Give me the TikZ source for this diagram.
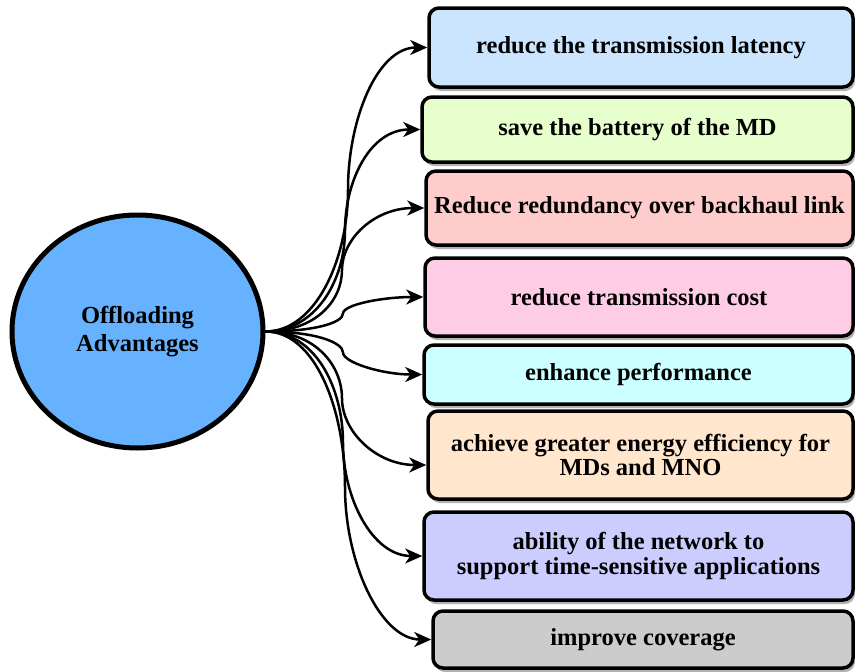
\documentclass[tikz,border=0pt]{standalone}
\usepackage{fontspec}
\setmainfont{Liberation Serif}
\usetikzlibrary{shadows,arrows.meta,shapes.geometric}
\definecolor{circ}{HTML}{66B2FF}
\definecolor{cA}{HTML}{CCE5FF}
\definecolor{cB}{HTML}{E6FFCC}
\definecolor{cC}{HTML}{FFCCCC}
\definecolor{cD}{HTML}{FFCCE6}
\definecolor{cE}{HTML}{CCFFFF}
\definecolor{cF}{HTML}{FFE6CC}
\definecolor{cG}{HTML}{CCCCFF}
\definecolor{cH}{HTML}{CCCCCC}
\begin{document}
\begin{tikzpicture}[x=1pt,y=-1pt,
  box/.style={draw=black, line width=3.5pt, rounded corners=10pt, align=center,
    font=\fontsize{24.5}{25}\selectfont\bfseries, inner sep=0pt,
    drop shadow={shadow xshift=2pt,shadow yshift=-4pt,fill=black!30,opacity=1}},
  arr/.style={line width=2.5pt, -{Stealth[length=17pt,width=15pt,inset=5pt]}},
]
\useasboundingbox (0,0) rectangle (855,672);

\node[ellipse, draw=black, line width=5pt, fill=circ, minimum width=251pt, minimum height=233pt,
  inner sep=0pt, align=center, font=\fontsize{24.5}{28}\selectfont\bfseries] (c) at (137.5,331.5) {Offloading\\Advantages};

\node[box, fill=cA, minimum width=424pt, minimum height=79pt] (b1) at (641,47.5) {reduce the transmission latency};
\node[box, fill=cB, minimum width=431pt, minimum height=65pt] (b2) at (637.5,129.5) {save the battery of the MD};
\node[box, fill=cC, minimum width=427pt, minimum height=74pt] (b3) at (639.5,208) {Reduce redundancy over backhaul link};
\node[box, fill=cD, minimum width=428pt, minimum height=78pt] (b4) at (639,297) {reduce transmission cost};
\node[box, fill=cE, minimum width=429pt, minimum height=59pt] (b5) at (638.5,374.5) {enhance performance};
\node[box, fill=cF, minimum width=425pt, minimum height=88pt, font=\fontsize{24.5}{20}\selectfont\bfseries] (b6) at (640.5,455) {achieve greater energy efficiency for\\MDs and MNO};
\node[box, fill=cG, minimum width=429pt, minimum height=88pt] (b7) at (638.5,556) {ability of the network to\\support time-sensitive applications};
\node[box, fill=cH, minimum width=420pt, minimum height=57pt] (b8) at (643,639.5) {improve coverage};

\coordinate (m1) at (348,189.5);
\coordinate (m2) at (345,230.5);
\coordinate (m3) at (342,270);
\coordinate (m4) at (343,313.5);
\coordinate (m5) at (343,352.5);
\coordinate (m6) at (342,398.5);
\coordinate (m7) at (343,443);
\coordinate (m8) at (345,487);
\coordinate (t6) at ([yshift=-10pt]b6.west);

\draw[arr] (c.east) .. controls +(50,0) and +(0,70) .. (m1) .. controls +(0,-70) and +(-50,0) .. (b1.west);
\draw[arr] (c.east) .. controls +(50,0) and +(0,50) .. (m2) .. controls +(0,-50) and +(-50,0) .. (b2.west);
\draw[arr] (c.east) .. controls +(50,0) and +(0,31) .. (m3) .. controls +(0,-31) and +(-50,0) .. (b3.west);
\draw[arr] (c.east) .. controls +(50,0) and +(0,9) .. (m4) .. controls +(0,-9) and +(-40,0) .. (b4.west);
\draw[arr] (c.east) .. controls +(50,0) and +(0,-10) .. (m5) .. controls +(0,10) and +(-40,0) .. (b5.west);
\draw[arr] (c.east) .. controls +(50,0) and +(0,-33) .. (m6) .. controls +(0,33) and +(-50,0) .. (t6);
\draw[arr] (c.east) .. controls +(50,0) and +(0,-55) .. (m7) .. controls +(0,55) and +(-50,0) .. (b7.west);
\draw[arr] (c.east) .. controls +(50,0) and +(0,-77) .. (m8) .. controls +(0,77) and +(-50,0) .. (b8.west);
\end{tikzpicture}
\end{document}
